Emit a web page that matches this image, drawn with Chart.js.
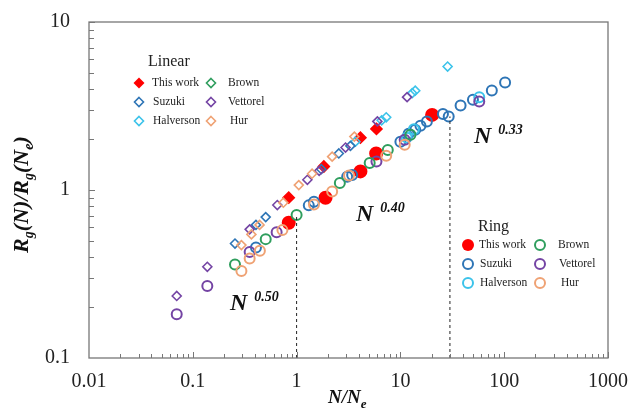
<!DOCTYPE html>
<html>
<head>
<meta charset="utf-8">
<script src="https://cdn.jsdelivr.net/npm/chart.js@4.4.1/dist/chart.umd.min.js"></script>
<style>
  html, body { margin: 0; padding: 0; background: #fff; }
  #wrap { width: 632px; height: 414px; position: relative; }
</style>
</head>
<body>
<div id="wrap"><canvas id="rgChart"></canvas></div>
<script>
// axis ranges / tick labels
const xRange = [0.01, 1000];
const yRange = [0.1, 10];
const xTickLabels = [0.01, 0.1, 1, 10, 100, 1000];
const yTickLabels = [0.1, 1, 10];

// Linear chains (diamonds)
const linThisWork = [[0.84, 0.90], [1.83, 1.38], [4.12, 2.05], [5.88, 2.31]];
const linSuzuki = [[0.255, 0.48], [0.406, 0.62], [0.504, 0.69], [1.73, 1.33], [2.55, 1.65], [3.3, 1.83]];
const linHalverson = [[3.69, 1.94], [6.6, 2.6], [7.3, 2.71], [13.0, 3.77], [13.9, 3.9], [28.5, 5.43]];
const linBrown = [];
const linVettorel = [[0.070, 0.234], [0.138, 0.349], [0.353, 0.583], [0.652, 0.814], [1.27, 1.15], [1.65, 1.30], [2.96, 1.79], [6.0, 2.56], [11.6, 3.57]];
const linHur = [[0.294, 0.47], [0.367, 0.544], [0.44, 0.62], [0.745, 0.84], [1.05, 1.07], [1.41, 1.25], [2.2, 1.58], [3.6, 2.08]];

// Ring chains (circles)
const ringThisWork = [[0.84, 0.638], [1.90, 0.90], [4.12, 1.29], [5.84, 1.65], [20.2, 2.80]];
const ringSuzuki = [[0.406, 0.455], [1.31, 0.81], [1.47, 0.85], [3.07, 1.20], [3.43, 1.23], [10, 1.94], [12, 2.16], [13.9, 2.28], [15.6, 2.41], [18.0, 2.56], [25.7, 2.83], [29.2, 2.74], [38, 3.18], [50, 3.44], [76, 3.91], [102, 4.36]];
const ringHalverson = [[11.5, 2.05], [13.5, 2.3], [57.5, 3.57]];
const ringBrown = [[0.255, 0.36], [0.504, 0.51], [1.0, 0.71], [2.61, 1.10], [5.06, 1.45], [7.56, 1.73], [12.5, 2.13]];
const ringVettorel = [[0.070, 0.182], [0.138, 0.268], [0.353, 0.428], [0.642, 0.56], [5.88, 1.48], [11, 1.99], [57.5, 3.36]];
const ringHur = [[0.294, 0.33], [0.353, 0.391], [0.443, 0.435], [0.73, 0.577], [1.47, 0.82], [2.2, 0.98], [3.2, 1.22], [7.3, 1.6], [11, 1.86]];

// crossover markers (dashed drop lines)
const dropLines = [[1, 0.71], [30, 2.74]];

// scaling exponents
const slopeLabels = [
    { text: '0.50', x: 230, y: 302 },
    { text: '0.40', x: 356, y: 213 },
    { text: '0.33', x: 474, y: 135 }
];

const colors = {
    red: '#FF0000',
    suzuki: '#2E75B6',
    halverson: '#3CC3EA',
    brown: '#2F9E5E',
    vettorel: '#7444A4',
    hur: '#EFA274'
};

const SERIF = '"Liberation Serif", "Times New Roman", serif';

function toPoints(arr) {
    return arr.map(p => ({ x: p[0], y: p[1] }));
}

function diamondSet(label, arr, color, filled) {
    return {
        label: label,
        data: toPoints(arr),
        pointStyle: 'rectRot',
        pointRadius: filled ? 5.5 : 4.5,
        borderColor: color,
        backgroundColor: filled ? color : 'rgba(0,0,0,0)',
        pointBorderWidth: 1.6,
        showLine: false
    };
}

function circleSet(label, arr, color, filled) {
    return {
        label: label,
        data: toPoints(arr),
        pointStyle: 'circle',
        pointRadius: filled ? 6 : 5,
        borderColor: color,
        backgroundColor: filled ? color : 'rgba(0,0,0,0)',
        pointBorderWidth: 2,
        showLine: false
    };
}

function dropSet(p) {
    return {
        label: 'drop',
        data: [{ x: p[0], y: yRange[0] }, { x: p[0], y: p[1] }],
        showLine: true,
        borderColor: '#222',
        borderWidth: 1,
        borderDash: [3, 3],
        pointRadius: 0
    };
}

function isPow10(v) {
    const l = Math.log10(v);
    return Math.abs(l - Math.round(l)) < 1e-9;
}

function tickLabel(list) {
    return v => {
        const n = Number(v.toPrecision(6));
        return isPow10(n) && list.includes(n) ? String(n) : '';
    };
}

function drawMarker(ctx, shape, x, y, color, filled) {
    ctx.save();
    ctx.strokeStyle = color;
    ctx.fillStyle = color;
    ctx.lineWidth = shape === 'circle' ? 2 : 1.6;
    ctx.beginPath();
    if (shape === 'circle') {
        ctx.arc(x, y, filled ? 6 : 5, 0, Math.PI * 2);
    } else {
        const r = filled ? 5.5 : 4.5;
        ctx.moveTo(x, y - r);
        ctx.lineTo(x + r, y);
        ctx.lineTo(x, y + r);
        ctx.lineTo(x - r, y);
        ctx.closePath();
    }
    if (filled) ctx.fill();
    else ctx.stroke();
    ctx.restore();
}

function drawLegendBox(ctx, title, shape, left, top, entries) {
    ctx.save();
    ctx.fillStyle = '#222';
    ctx.font = '16px ' + SERIF;
    ctx.textBaseline = 'middle';
    ctx.fillText(title.text, title.x, title.y);
    ctx.font = '11.5px ' + SERIF;
    entries.forEach((e, i) => {
        const col = i % 2;
        const row = Math.floor(i / 2);
        const mx = left[col];
        const my = top + row * 19;
        drawMarker(ctx, shape, mx, my, e.color, e.filled);
        ctx.fillStyle = '#222';
        ctx.fillText(e.label, mx + e.gap, my);
    });
    ctx.restore();
}

// draws frame, inward ticks, legends, titles and slope labels
const decorPlugin = {
    id: 'decor',
    afterDraw(chart) {
        const ctx = chart.ctx;
        const a = chart.chartArea;
        const xs = chart.scales.x;
        const ys = chart.scales.y;

        ctx.save();
        ctx.strokeStyle = '#777';
        ctx.lineWidth = 1.3;
        ctx.strokeRect(a.left, a.top, a.right - a.left, a.bottom - a.top);

        ctx.lineWidth = 1;
        ctx.beginPath();
        for (let e = -2; e <= 2; e++) {
            for (let m = 2; m <= 10; m++) {
                const v = m * Math.pow(10, e);
                const px = Math.round(xs.getPixelForValue(v)) + 0.5;
                const len = m === 10 ? 6 : 4;
                ctx.moveTo(px, a.bottom);
                ctx.lineTo(px, a.bottom - len);
            }
        }
        for (let e = -1; e <= 0; e++) {
            for (let m = 2; m <= 10; m++) {
                const v = m * Math.pow(10, e);
                const py = Math.round(ys.getPixelForValue(v)) + 0.5;
                const len = m === 10 ? 6 : 5;
                ctx.moveTo(a.left, py);
                ctx.lineTo(a.left + len, py);
            }
        }
        ctx.stroke();
        ctx.restore();

        drawLegendBox(ctx, { text: 'Linear', x: 148, y: 62 }, 'diamond', [139, 211], 83, [
            { label: 'This work', color: colors.red, filled: true, gap: 13 },
            { label: 'Brown', color: colors.brown, filled: false, gap: 17 },
            { label: 'Suzuki', color: colors.suzuki, filled: false, gap: 14 },
            { label: 'Vettorel', color: colors.vettorel, filled: false, gap: 17 },
            { label: 'Halverson', color: colors.halverson, filled: false, gap: 14 },
            { label: 'Hur', color: colors.hur, filled: false, gap: 19 }
        ]);
        drawLegendBox(ctx, { text: 'Ring', x: 478, y: 227 }, 'circle', [468, 540], 245, [
            { label: 'This work', color: colors.red, filled: true, gap: 11 },
            { label: 'Brown', color: colors.brown, filled: false, gap: 18 },
            { label: 'Suzuki', color: colors.suzuki, filled: false, gap: 12 },
            { label: 'Vettorel', color: colors.vettorel, filled: false, gap: 19 },
            { label: 'Halverson', color: colors.halverson, filled: false, gap: 12 },
            { label: 'Hur', color: colors.hur, filled: false, gap: 21 }
        ]);

        ctx.save();
        ctx.fillStyle = '#111';
        ctx.textBaseline = 'alphabetic';
        slopeLabels.forEach(s => {
            ctx.font = 'italic bold 24px ' + SERIF;
            ctx.fillText('N', s.x, s.y + 8);
            const w = ctx.measureText('N').width;
            ctx.font = 'italic bold 14px ' + SERIF;
            ctx.fillText(s.text, s.x + w + 7, s.y - 1);
        });
        ctx.restore();

        // x title N/N_e
        ctx.save();
        ctx.fillStyle = '#111';
        ctx.textBaseline = 'alphabetic';
        let x = 328;
        const yb = 403;
        ctx.font = 'italic bold 19px ' + SERIF;
        ctx.fillText('N/N', x, yb);
        x += ctx.measureText('N/N').width;
        ctx.font = 'italic bold 13px ' + SERIF;
        ctx.fillText('e', x, yb + 5);
        ctx.restore();

        // y title R_g(N)/R_g(N_e)
        ctx.save();
        ctx.translate(28, 253);
        ctx.rotate(-Math.PI / 2);
        ctx.fillStyle = '#111';
        ctx.textBaseline = 'alphabetic';
        const parts = [
            { t: 'R', sub: false }, { t: 'g', sub: true }, { t: '(N)/R', sub: false },
            { t: 'g', sub: true }, { t: '(N', sub: false }, { t: 'e', sub: true }, { t: ')', sub: false }
        ];
        let px = 0;
        parts.forEach(p => {
            ctx.font = p.sub ? 'italic bold 14px ' + SERIF : 'italic bold 22px ' + SERIF;
            ctx.fillText(p.t, px, p.sub ? 5 : 0);
            px += ctx.measureText(p.t).width;
        });
        ctx.restore();
    }
};

const tickFont = { family: SERIF, size: 20 };

new Chart(document.getElementById('rgChart'), {
    type: 'scatter',
    data: {
        datasets: [
            dropSet(dropLines[0]),
            dropSet(dropLines[1]),
            diamondSet('Linear Brown', linBrown, colors.brown, false),
            diamondSet('Linear Hur', linHur, colors.hur, false),
            diamondSet('Linear Vettorel', linVettorel, colors.vettorel, false),
            diamondSet('Linear Suzuki', linSuzuki, colors.suzuki, false),
            diamondSet('Linear Halverson', linHalverson, colors.halverson, false),
            circleSet('Ring Hur', ringHur, colors.hur, false),
            circleSet('Ring Brown', ringBrown, colors.brown, false),
            circleSet('Ring Vettorel', ringVettorel, colors.vettorel, false),
            circleSet('Ring Halverson', ringHalverson, colors.halverson, false),
            circleSet('Ring Suzuki', ringSuzuki, colors.suzuki, false),
            diamondSet('Linear This work', linThisWork, colors.red, true),
            circleSet('Ring This work', ringThisWork, colors.red, true)
        ]
    },
    options: {
        responsive: true,
        maintainAspectRatio: false,
        animation: false,
        layout: { padding: { top: 22, right: 24, left: 0, bottom: 0 } },
        plugins: {
            legend: { display: false },
            tooltip: { enabled: false }
        },
        scales: {
            x: {
                type: 'logarithmic',
                min: xRange[0],
                max: xRange[1],
                grid: { display: false, drawTicks: false },
                border: { display: false },
                afterFit: s => {
                    s.height = 56;
                    s.paddingLeft = 0;
                    s.paddingRight = 0;
                },
                ticks: {
                    autoSkip: false,
                    maxRotation: 0,
                    padding: 12,
                    color: '#222',
                    font: tickFont,
                    callback: tickLabel(xTickLabels)
                }
            },
            y: {
                type: 'logarithmic',
                min: yRange[0],
                max: yRange[1],
                grid: { display: false, drawTicks: false },
                border: { display: false },
                afterFit: s => {
                    s.width = 89;
                    s.paddingTop = 0;
                    s.paddingBottom = 0;
                },
                ticks: {
                    autoSkip: false,
                    padding: 19,
                    color: '#222',
                    font: tickFont,
                    callback: tickLabel(yTickLabels)
                }
            }
        }
    },
    plugins: [decorPlugin]
});
</script>
</body>
</html>
